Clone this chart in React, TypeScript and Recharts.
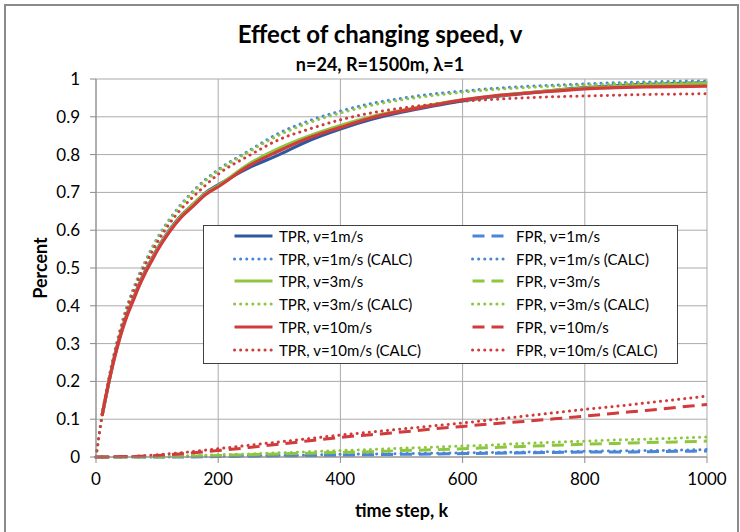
import { LineChart, Line, XAxis, YAxis, CartesianGrid } from "recharts";

// Effect of changing speed, v — TPR/FPR vs time step k (measured + CALC)

const FONT = "Lato, 'Open Sans', sans-serif";
const BLUE_DARK = "#2d5a9e";
const BLUE = "#4a86d6";
const GREEN = "#8dc63f";
const RED = "#d13b3b";

const X_TICKS = [0, 200, 400, 600, 800, 1000];
const Y_TICKS = [0, 0.1, 0.2, 0.3, 0.4, 0.5, 0.6, 0.7, 0.8, 0.9, 1];

// time steps
const K_TPR = [10, 20, 30, 40, 50, 60, 70, 80, 90, 100, 120, 140, 160, 180, 200, 250, 300, 350, 400, 450, 500, 550, 600, 650, 700, 750, 800, 850, 900, 950, 1000];
const K_CALC = [0, ...K_TPR];
const K_FPR = [0, 50, 100, 150, 200, 250, 300, 350, 400, 450, 500, 550, 600, 650, 700, 750, 800, 850, 900, 950, 1000];

// TPR, measured
const TPR_V1 = [0.11, 0.19, 0.265, 0.325, 0.375, 0.415, 0.455, 0.49, 0.52, 0.55, 0.6, 0.64, 0.67, 0.7, 0.72, 0.765, 0.8, 0.838, 0.868, 0.893, 0.912, 0.928, 0.942, 0.953, 0.962, 0.97, 0.977, 0.982, 0.986, 0.988, 0.99];
const TPR_V3 = [0.11, 0.19, 0.262, 0.322, 0.373, 0.413, 0.452, 0.487, 0.518, 0.548, 0.598, 0.638, 0.67, 0.698, 0.718, 0.775, 0.817, 0.85, 0.877, 0.9, 0.917, 0.932, 0.945, 0.955, 0.963, 0.97, 0.976, 0.98, 0.984, 0.986, 0.988];
const TPR_V10 = [0.11, 0.19, 0.26, 0.32, 0.37, 0.41, 0.45, 0.485, 0.515, 0.545, 0.595, 0.635, 0.665, 0.695, 0.715, 0.77, 0.81, 0.845, 0.872, 0.897, 0.915, 0.93, 0.945, 0.955, 0.962, 0.968, 0.974, 0.977, 0.979, 0.98, 0.981];

// TPR, calculated
const TPR_V1_CALC = [0, 0.11, 0.2, 0.275, 0.34, 0.395, 0.44, 0.48, 0.515, 0.548, 0.578, 0.628, 0.67, 0.705, 0.735, 0.76, 0.81, 0.857, 0.89, 0.915, 0.935, 0.949, 0.96, 0.968, 0.975, 0.98, 0.984, 0.987, 0.99, 0.992, 0.994, 0.995];
const TPR_V3_CALC = [0, 0.11, 0.198, 0.273, 0.338, 0.393, 0.438, 0.478, 0.513, 0.545, 0.575, 0.625, 0.667, 0.702, 0.732, 0.757, 0.807, 0.852, 0.885, 0.91, 0.93, 0.945, 0.956, 0.965, 0.972, 0.977, 0.981, 0.984, 0.987, 0.989, 0.99, 0.991];
const TPR_V10_CALC = [0, 0.11, 0.195, 0.27, 0.333, 0.387, 0.432, 0.472, 0.507, 0.538, 0.567, 0.617, 0.657, 0.69, 0.72, 0.748, 0.797, 0.84, 0.868, 0.892, 0.91, 0.923, 0.933, 0.941, 0.946, 0.95, 0.953, 0.955, 0.957, 0.959, 0.96, 0.961];

// FPR, measured
const FPR_V1 = [0, 0, 0, 0, 0.001, 0.002, 0.003, 0.004, 0.005, 0.006, 0.007, 0.008, 0.009, 0.01, 0.011, 0.012, 0.013, 0.013, 0.014, 0.015, 0.016];
const FPR_V3 = [0, 0, 0, 0.002, 0.004, 0.006, 0.008, 0.01, 0.012, 0.014, 0.017, 0.019, 0.022, 0.025, 0.028, 0.031, 0.034, 0.036, 0.038, 0.04, 0.042];
const FPR_V10 = [0, 0.001, 0.004, 0.01, 0.017, 0.025, 0.034, 0.043, 0.052, 0.059, 0.066, 0.074, 0.081, 0.088, 0.094, 0.101, 0.108, 0.116, 0.123, 0.131, 0.139];

// FPR, calculated
const FPR_V1_CALC = [0, 0, 0, 0.001, 0.002, 0.003, 0.004, 0.005, 0.007, 0.008, 0.009, 0.01, 0.011, 0.012, 0.013, 0.014, 0.015, 0.016, 0.017, 0.018, 0.02];
const FPR_V3_CALC = [0, 0, 0.001, 0.003, 0.006, 0.008, 0.011, 0.014, 0.017, 0.02, 0.023, 0.026, 0.029, 0.032, 0.036, 0.039, 0.042, 0.045, 0.047, 0.05, 0.053];
const FPR_V10_CALC = [0, 0.001, 0.006, 0.013, 0.022, 0.031, 0.04, 0.049, 0.058, 0.066, 0.074, 0.082, 0.09, 0.099, 0.108, 0.117, 0.126, 0.134, 0.143, 0.152, 0.161];

type LineStyle = "solid" | "dash" | "dot";

const DASH: Record<LineStyle, string | undefined> = {
  solid: undefined,
  dash: "12 7",
  dot: "0.1 6",
};

const zip = (ks: number[], vs: number[]) => ks.map((k, i) => ({ k, v: vs[i] }));

// Excel-Reihenfolge (Legende zeilenweise: links TPR, rechts FPR)
const SERIES: { name: string; k: number[]; v: number[]; color: string; style: LineStyle }[] = [
  { name: "TPR, v=1m/s", k: K_TPR, v: TPR_V1, color: BLUE_DARK, style: "solid" },
  { name: "FPR, v=1m/s", k: K_FPR, v: FPR_V1, color: BLUE, style: "dash" },
  { name: "TPR, v=1m/s (CALC)", k: K_CALC, v: TPR_V1_CALC, color: BLUE, style: "dot" },
  { name: "FPR, v=1m/s (CALC)", k: K_FPR, v: FPR_V1_CALC, color: BLUE, style: "dot" },
  { name: "TPR, v=3m/s", k: K_TPR, v: TPR_V3, color: GREEN, style: "solid" },
  { name: "FPR, v=3m/s", k: K_FPR, v: FPR_V3, color: GREEN, style: "dash" },
  { name: "TPR, v=3m/s (CALC)", k: K_CALC, v: TPR_V3_CALC, color: GREEN, style: "dot" },
  { name: "FPR, v=3m/s (CALC)", k: K_FPR, v: FPR_V3_CALC, color: GREEN, style: "dot" },
  { name: "TPR, v=10m/s", k: K_TPR, v: TPR_V10, color: RED, style: "solid" },
  { name: "FPR, v=10m/s", k: K_FPR, v: FPR_V10, color: RED, style: "dash" },
  { name: "TPR, v=10m/s (CALC)", k: K_CALC, v: TPR_V10_CALC, color: RED, style: "dot" },
  { name: "FPR, v=10m/s (CALC)", k: K_FPR, v: FPR_V10_CALC, color: RED, style: "dot" },
];

const LEG_COLS = [
  { lineX: 29, lineW: 41, textX: 75 },
  { lineX: 267, lineW: 36, textX: 312 },
];

function ChartLegend() {
  return (
    <div
      style={{
        position: "absolute",
        left: 203,
        top: 225,
        width: 473,
        height: 137,
        border: "1px solid #404040",
        background: "#fff",
        fontFamily: FONT,
        fontSize: 15,
        color: "#000",
      }}
    >
      {SERIES.map((s, i) => {
        const col = LEG_COLS[i % 2];
        const row = Math.floor(i / 2);
        const cy = 10 + row * 22.7;
        return (
          <div key={s.name}>
            <svg
              style={{ position: "absolute", left: col.lineX, top: cy - 5 }}
              width={col.lineW}
              height={10}
            >
              <line
                x1={1.5}
                x2={col.lineW - 1.5}
                y1={5}
                y2={5}
                stroke={s.color}
                strokeWidth={3}
                strokeDasharray={DASH[s.style]}
                strokeLinecap={s.style === "dot" ? "round" : "butt"}
              />
            </svg>
            <span
              style={{
                position: "absolute",
                left: col.textX,
                top: cy - 10,
                lineHeight: "20px",
                whiteSpace: "nowrap",
              }}
            >
              {s.name}
            </span>
          </div>
        );
      })}
    </div>
  );
}

export default function App() {
  const tick = { fill: "#000", fontSize: 17, fontFamily: FONT };
  return (
    <div
      style={{
        position: "fixed",
        left: 0,
        top: 0,
        width: 740,
        height: 532,
        overflow: "hidden",
        background: "#fff",
      }}
    >
      <div
        style={{
          position: "absolute",
          left: 4,
          top: 4,
          width: 731,
          height: 560,
          border: "2px solid #8a8a8a",
        }}
      />
      <LineChart
        width={740}
        height={532}
        margin={{ top: 79, right: 33, bottom: 25, left: 36 }}
      >
        <CartesianGrid stroke="#ababab" strokeWidth={1} />
        <XAxis
          type="number"
          dataKey="k"
          domain={[0, 1000]}
          ticks={X_TICKS}
          tickSize={6}
          tickMargin={10}
          height={50}
          stroke="#8a8a8a"
          tick={tick}
          allowDuplicatedCategory={false}
        />
        <YAxis
          type="number"
          dataKey="v"
          domain={[0, 1]}
          ticks={Y_TICKS}
          tickFormatter={(v: number) => String(v)}
          width={60}
          tickSize={6}
          tickMargin={10}
          stroke="#8a8a8a"
          tick={tick}
        />
        {SERIES.map((s) => (
          <Line
            key={s.name}
            data={zip(s.k, s.v)}
            dataKey="v"
            name={s.name}
            type="monotone"
            stroke={s.color}
            strokeWidth={s.style === "solid" ? 3.2 : 3}
            strokeDasharray={DASH[s.style]}
            strokeLinecap={s.style === "dot" ? "round" : "butt"}
            dot={false}
            activeDot={false}
            isAnimationActive={false}
          />
        ))}
      </LineChart>
      <ChartLegend />
      <div
        style={{
          position: "absolute",
          left: 10,
          width: 740,
          top: 19,
          textAlign: "center",
          fontFamily: FONT,
          fontWeight: 700,
          fontSize: 24,
          lineHeight: "30px",
          color: "#000",
        }}
      >
        Effect of changing speed, v
      </div>
      <div
        style={{
          position: "absolute",
          left: 10,
          width: 740,
          top: 53,
          textAlign: "center",
          fontFamily: FONT,
          fontWeight: 700,
          fontSize: 18,
          lineHeight: "22px",
          color: "#000",
        }}
      >
        n=24, R=1500m, λ=1
      </div>
      <div
        style={{
          position: "absolute",
          left: 96,
          width: 611,
          top: 498,
          textAlign: "center",
          fontFamily: FONT,
          fontWeight: 700,
          fontSize: 18,
          lineHeight: "24px",
          color: "#000",
        }}
      >
        time step, k
      </div>
      <div
        style={{
          position: "absolute",
          left: 40,
          top: 268,
          transform: "translate(-50%, -50%) rotate(-90deg)",
          fontFamily: FONT,
          fontWeight: 700,
          fontSize: 18,
          lineHeight: "24px",
          color: "#000",
          whiteSpace: "nowrap",
        }}
      >
        Percent
      </div>
    </div>
  );
}
